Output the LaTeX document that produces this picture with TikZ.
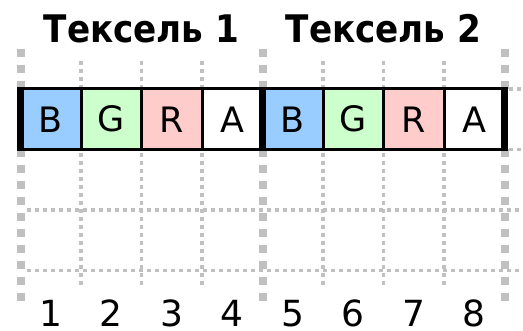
\documentclass[tikz,border=0pt]{standalone}
\usepackage{fontspec}
\setmainfont{DejaVu Sans}
\newfontfamily\condfont{DejaVu Sans Condensed}
\definecolor{cblue}{HTML}{99CCFF}
\definecolor{cgreen}{HTML}{CCFFCC}
\definecolor{cred}{HTML}{FFCCCC}
\definecolor{gridgray}{HTML}{C0C0C0}
\begin{document}
\begin{tikzpicture}[x=1pt,y=-1pt,
  gridthick/.style={draw=gridgray,line width=8pt,dash pattern=on 8pt off 8pt},
  gridthin/.style={draw=gridgray,line width=3.5pt,dash pattern=on 4pt off 4pt},
  cell/.style={draw=black,line width=3pt,minimum width=60.5pt,minimum height=60.5pt,
    inner sep=0pt,outer sep=0pt,font=\fontsize{35}{35}\selectfont},
  texelsep/.style={draw=black,line width=7pt,shorten <=-1.5pt,shorten >=-1.5pt},
  title/.style={anchor=base,inner sep=0pt,font=\condfont\bfseries\fontsize{38}{40}\selectfont},
  num/.style={anchor=base,inner sep=0pt,font=\fontsize{36}{40}\selectfont}
]
\useasboundingbox[fill=white] (0,0) rectangle (523,331);
% grid
\foreach \i in {1,2,3,5,6,7}{
  \draw[gridthin] ({20.5+60.5*\i},61) -- ({20.5+60.5*\i},89);
  \draw[gridthin] ({20.5+60.5*\i},153.5) -- ({20.5+60.5*\i},285);
}
\foreach \i in {0,4,8}{
  \draw[gridthick] ({20.5+60.5*\i},49) -- ({20.5+60.5*\i},89);
  \draw[gridthick] ({20.5+60.5*\i},149.5) -- ({20.5+60.5*\i},301);
}
\draw[gridthin] (27,210) -- (523,210);
\draw[gridthin] (27,270.5) -- (523,270.5);
\draw[gridthin] (509,89) -- (523,89);
\draw[gridthin] (509,149.5) -- (523,149.5);
% cells
\node[cell,fill=cblue]  (c1) at (50.75,119.25) {B};
\node[cell,fill=cgreen] (c2) at (111.25,119.25) {G};
\node[cell,fill=cred]   (c3) at (171.75,119.25) {R};
\node[cell,fill=white]  (c4) at (232.25,119.25) {A};
\node[cell,fill=cblue]  (c5) at (292.75,119.25) {B};
\node[cell,fill=cgreen] (c6) at (353.25,119.25) {G};
\node[cell,fill=cred]   (c7) at (413.75,119.25) {R};
\node[cell,fill=white]  (c8) at (474.25,119.25) {A};
\draw[texelsep] (c1.north west) -- (c1.south west);
\draw[texelsep] (c5.north west) -- (c5.south west);
\draw[texelsep] (c8.north east) -- (c8.south east);
% titles
\node[title] (t1) at (141.5,43) {Тексель 1};
\node[title] (t2) at (383.5,43) {Тексель 2};
% numbers
\node[num] (n1) at (50.75,326.5) {1};
\node[num] (n2) at (111.25,326.5) {2};
\node[num] (n3) at (171.75,326.5) {3};
\node[num] (n4) at (232.25,326.5) {4};
\node[num] (n5) at (292.75,326.5) {5};
\node[num] (n6) at (353.25,326.5) {6};
\node[num] (n7) at (413.75,326.5) {7};
\node[num] (n8) at (474.25,326.5) {8};
\end{tikzpicture}
\end{document}
